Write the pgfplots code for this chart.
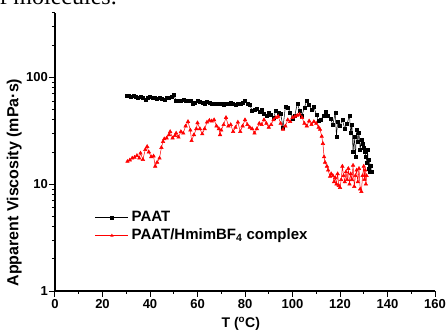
\documentclass[border=0pt]{standalone}
\usepackage{fontspec}
\setmainfont{Liberation Sans}
\newfontfamily\serifx{Liberation Serif}
\usepackage{pgfplots}
\pgfplotsset{compat=1.18}
\begin{document}
\begin{tikzpicture}
\begin{axis}[name=ax, at={(0,0)}, anchor=south west,
  scale only axis, width=380pt, height=278pt,
  ymode=log, xmin=0, xmax=160, ymin=1, ymax=400,
  axis x line*=bottom, axis y line*=left,
  axis line style={line width=1.2pt},
  tick align=outside,
  major tick length=6pt, minor tick length=3pt,
  every tick/.style={black, line width=1pt},
  xtick={0,20,...,160}, minor xtick={10,30,...,150},
  ytick={1,10,100}, yticklabels={1,10,100},
  minor ytick={2,3,4,5,6,7,8,9,20,30,40,50,60,70,80,90,200,300,400},
  ticklabel style={font=\fontsize{13}{15}\selectfont\bfseries},
  xticklabel style={/pgf/number format/assume math mode=true, inner sep=2pt},
  yticklabel style={inner sep=1pt},
  xtick pos=bottom, ytick pos=left,
  xlabel={T (\textsuperscript{o}C)},
  xlabel style={at={(axis description cs:0.489,-0.131)}, anchor=base, font=\fontsize{14}{16}\selectfont\bfseries},
  ylabel={Apparent Viscosity (mPa·s)},
  ylabel style={at={(axis description cs:-0.107,0.39)}, anchor=center, rotate=0, font=\fontsize{16}{18}\selectfont\bfseries},
  legend style={at={(axis description cs:0.105,0.29)}, anchor=north west, draw=none, fill=none,
    font=\fontsize{15}{17}\selectfont\bfseries, row sep=4pt, inner sep=0pt,
    nodes={text height=11pt, text depth=3pt, inner xsep=3pt, inner ysep=0pt}},
  legend cell align=left,
  legend image code/.code={\draw[line width=0.6pt, mark size=1.3pt, mark repeat=2, mark phase=2] plot coordinates {(0pt,0pt) (16.5pt,0pt) (33pt,0pt)};},
  clip=false,
]
\addplot[black, line width=0.5pt, mark=square*, mark size=1.5pt, mark options={solid}] coordinates {
(30,67) (31,67) (32,66) (33,67) (34,66) (35,65) (36,66) (37,64) (38,62) (39,65)
(40,66) (41,64) (42,65) (43,63) (44,64) (45,63) (46,62) (47,64) (48,65) (49,66)
(50,68) (51,61) (52,60) (53,61) (54,62) (55,61) (56,60) (57,60) (58,57) (59,58)
(60,60) (61,59) (62,58) (63,57) (64,59) (65,58) (66,56) (67,57) (68,56) (69,57)
(70,56) (71,55) (72,57) (73,56) (74,58) (75,56) (76,55) (77,56) (78,57) (79,58)
(80,61) (81,56) (82,55) (83,49) (84,50) (85,51) (86,48) (87,50) (88,46) (89,44)
(90,47) (91,45) (92,42) (93,49) (94,47) (95,46) (96,34) (97,53) (98,52) (99,47)
(100,41) (101,44) (102,57) (103,49) (104,44) (105,52) (106,61) (107,55) (108,50) (109,53)
(110,45) (111,39) (112,40) (113,44) (114,48) (115,44) (116,41) (117,36) (118,47) (118.5,28)
(119,38) (120,35) (121,40) (122,33) (123,37) (124,44) (124.5,30) (125,36) (125.5,20) (126,28)
(126.5,18) (127,32) (127.5,25) (128,30) (128.5,21) (129,26) (129.5,24) (130,22) (130.5,20) (131,18)
(131.3,16) (131.6,21) (132,14) (132.3,17) (132.6,13) (133,15) (133.2,13)
};
\addlegendentry{PAAT}
\addplot[red, line width=0.5pt, mark=triangle*, mark size=2pt, mark options={solid}] coordinates {
(30.5,16.3) (31.5,16.8) (32.5,17.5) (33.5,17.8) (34.5,18.5) (35.5,17.5) (36,19.5) (37,17) (38,21) (38.8,22.5)
(39.5,20) (40.5,18) (41.5,18.3) (42.2,14.7) (43,16) (44,17.5) (44.8,22) (45.5,25) (46,26.5) (47,27)
(48,29) (48.5,31) (49.5,27) (50.5,28.5) (51,30) (52,27.5) (53,31) (54,30) (55,35) (56,38.5)
(57,32) (57.5,25.5) (58.5,29) (59.5,33) (60,37.5) (61,33) (62,29.5) (63,33) (64,38) (65,39.5)
(66,39) (67,40) (68,35) (69,33) (69.5,29) (70,32) (71,36) (72,42) (73,35) (74,36)
(75,31) (76,34) (77,38) (78,31) (79,35) (80,40) (81,36) (82,34) (83,33) (84,30)
(85,33) (86,37) (87,36) (88,40) (89,37) (90,34) (91,36) (92,40) (93,42) (94,43)
(95,37) (96,32.5) (97,35) (98,40) (99,38.5) (100,42) (101,43) (102,44) (103,45) (104,42)
(105,37) (106,35) (107,39) (108,36) (109,38.5) (110,37) (111,34) (111.6,32.5) (112.3,28) (112.8,24)
(113.3,18) (113.7,16) (114.5,14.7) (115,13.5) (115.8,11.8) (116.3,12.5) (117,12) (117.5,10.5) (118,11.5) (118.5,10)
(119,12.5) (119.5,9.7) (120,9.3) (120.5,11) (121,14.7) (121.5,12) (122,10.5) (122.5,13) (123,11) (123.5,14)
(124,10) (124.5,12.5) (125,11) (125.5,15) (126,9.5) (126.5,12) (127,13.5) (127.5,10.5) (128,14) (128.5,9)
(129,8.5) (129.5,12) (130,14.7) (130.3,11) (130.6,13.5) (130.9,10) (131.2,12)
};
\addlegendentry{PAAT/HmimBF\textsubscript{4} complex}
\end{axis}
\node[anchor=base east, inner sep=0pt, font=\serifx\fontsize{24}{26}\selectfont] at ([shift={(62pt,286pt)}]ax.south west) {of molecules.};
\pgfresetboundingbox
\path[use as bounding box] ([shift={(-55pt,-38pt)}]ax.south west) rectangle ([shift={(391pt,291pt)}]ax.south west);
\end{tikzpicture}
\end{document}
